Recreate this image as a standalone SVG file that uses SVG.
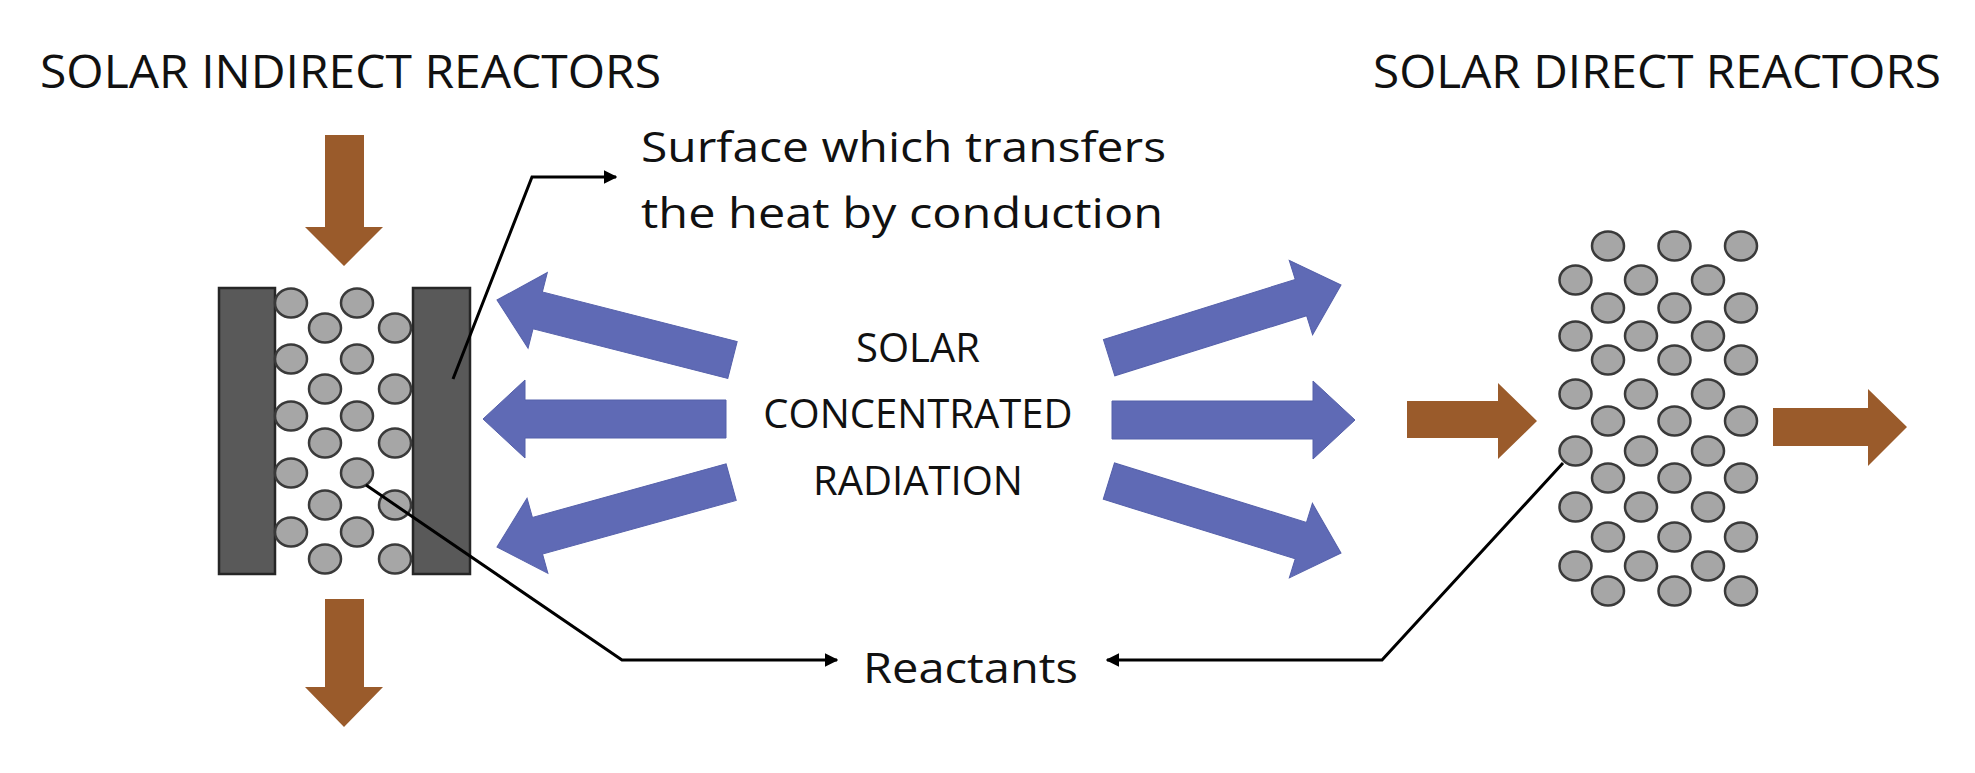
<svg xmlns="http://www.w3.org/2000/svg" width="1975" height="773" viewBox="0 0 1975 773">
<style>
.t{font-family:"Open Sans","Liberation Sans",sans-serif;fill:#111}
.p{fill:#a6a6a6;stroke:#3a3a3a;stroke-width:2.5}
.b{fill:#9a5b2b}
.bl{fill:#5f6ab5;stroke:#5560aa;stroke-width:1}
.plate{fill:#595959;stroke:#262626;stroke-width:2.5}
.ln{fill:none;stroke:#000;stroke-width:3}
</style>
<defs>
<marker id="ah" viewBox="0 0 10 10" refX="9" refY="5" markerWidth="4.5" markerHeight="4.5" orient="auto-start-reverse"><path d="M0,0 L10,5 L0,10 z" fill="#000"/></marker>
<polygon id="arr" points="0,0 42,-39 42,-19 243,-19 243,19 42,19 42,39"/>
<ellipse id="pc" rx="16" ry="14.5"/>
</defs>
<rect width="1975" height="773" fill="#fff"/>
<text class="t" x="40" y="88" font-size="46" textLength="621" lengthAdjust="spacingAndGlyphs">SOLAR INDIRECT REACTORS</text>
<text class="t" x="1373" y="88" font-size="46" textLength="568" lengthAdjust="spacingAndGlyphs">SOLAR DIRECT REACTORS</text>
<g id="indirect-reactor">
<polygon class="b" points="325,135 364,135 364,227 383,227 344,266 305,227 325,227"/>
<polygon class="b" points="325,599 364,599 364,687 383,687 344,727 305,687 325,687"/>
<rect class="plate" x="219" y="288" width="56" height="286"/>
<rect class="plate" x="413" y="288" width="57" height="286"/>
<g class="p">
<use href="#pc" x="291" y="303"/><use href="#pc" x="291" y="359"/><use href="#pc" x="291" y="416"/><use href="#pc" x="291" y="473"/><use href="#pc" x="291" y="532"/>
<use href="#pc" x="357" y="303"/><use href="#pc" x="357" y="359"/><use href="#pc" x="357" y="416"/><use href="#pc" x="357" y="473"/><use href="#pc" x="357" y="532"/>
<use href="#pc" x="325" y="328"/><use href="#pc" x="325" y="389"/><use href="#pc" x="325" y="443"/><use href="#pc" x="325" y="505"/><use href="#pc" x="325" y="559"/>
<use href="#pc" x="395" y="328"/><use href="#pc" x="395" y="389"/><use href="#pc" x="395" y="443"/><use href="#pc" x="395" y="505"/><use href="#pc" x="395" y="559"/>
</g>
</g>
<g id="radiation">
<g class="bl">
<use href="#arr" transform="translate(497,300) rotate(14.3)"/>
<use href="#arr" transform="translate(483,419)"/>
<use href="#arr" transform="translate(497,547) rotate(-15.5)"/>
<use href="#arr" transform="translate(1341,285) rotate(162.6)"/>
<use href="#arr" transform="translate(1355,420) rotate(180)"/>
<use href="#arr" transform="translate(1341,553) rotate(197.2)"/>
</g>
<text class="t" font-size="40" text-anchor="middle"><tspan x="918" y="362">SOLAR</tspan><tspan x="918" y="428">CONCENTRATED</tspan><tspan x="918" y="495">RADIATION</tspan></text>
</g>
<g id="direct-reactor">
<polygon class="b" points="1407,401 1498,401 1498,383 1537,421 1498,459 1498,438 1407,438"/>
<polygon class="b" points="1773,408 1868,408 1868,389 1907,427 1868,466 1868,446 1773,446"/>
<g class="p">
<use href="#pc" x="1608" y="246"/><use href="#pc" x="1608" y="308"/><use href="#pc" x="1608" y="360"/><use href="#pc" x="1608" y="421"/><use href="#pc" x="1608" y="478"/><use href="#pc" x="1608" y="537"/><use href="#pc" x="1608" y="591"/>
<use href="#pc" x="1674.5" y="246"/><use href="#pc" x="1674.5" y="308"/><use href="#pc" x="1674.5" y="360"/><use href="#pc" x="1674.5" y="421"/><use href="#pc" x="1674.5" y="478"/><use href="#pc" x="1674.5" y="537"/><use href="#pc" x="1674.5" y="591"/>
<use href="#pc" x="1741" y="246"/><use href="#pc" x="1741" y="308"/><use href="#pc" x="1741" y="360"/><use href="#pc" x="1741" y="421"/><use href="#pc" x="1741" y="478"/><use href="#pc" x="1741" y="537"/><use href="#pc" x="1741" y="591"/>
<use href="#pc" x="1575.5" y="280"/><use href="#pc" x="1575.5" y="336"/><use href="#pc" x="1575.5" y="394"/><use href="#pc" x="1575.5" y="451"/><use href="#pc" x="1575.5" y="507"/><use href="#pc" x="1575.5" y="566"/>
<use href="#pc" x="1641" y="280"/><use href="#pc" x="1641" y="336"/><use href="#pc" x="1641" y="394"/><use href="#pc" x="1641" y="451"/><use href="#pc" x="1641" y="507"/><use href="#pc" x="1641" y="566"/>
<use href="#pc" x="1708" y="280"/><use href="#pc" x="1708" y="336"/><use href="#pc" x="1708" y="394"/><use href="#pc" x="1708" y="451"/><use href="#pc" x="1708" y="507"/><use href="#pc" x="1708" y="566"/>
</g>
</g>
<g id="surface-label"><text class="t" font-size="42"><tspan x="641" y="162" textLength="525" lengthAdjust="spacingAndGlyphs">Surface which transfers</tspan><tspan x="641" y="228" textLength="522" lengthAdjust="spacingAndGlyphs">the heat by conduction</tspan></text></g>
<g id="reactants-label"><text class="t" x="863" y="683" font-size="42" textLength="215" lengthAdjust="spacingAndGlyphs">Reactants</text></g>
<g id="connectors">
<polyline class="ln" points="453,379 532,177 616,177" marker-end="url(#ah)"/>
<polyline class="ln" points="366,485 622,660 837,660" marker-end="url(#ah)"/>
<polyline class="ln" points="1563,463 1382,660 1107,660" marker-end="url(#ah)"/>
</g>
</svg>
